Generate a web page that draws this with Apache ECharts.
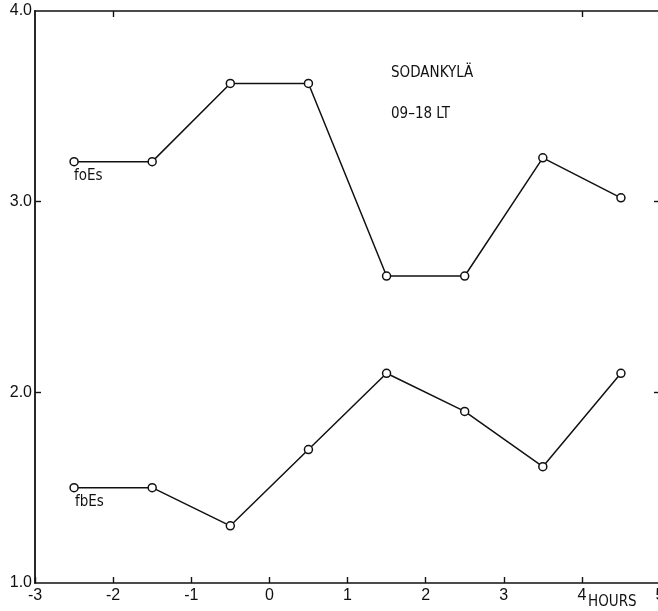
<!DOCTYPE html>
<html>
<head>
<meta charset="utf-8">
<script src="https://cdn.jsdelivr.net/npm/echarts@6/dist/echarts.min.js"></script>
<style>
  html, body { margin: 0; padding: 0; background: #fff; }
  #chart { width: 658px; height: 611px; }
</style>
</head>
<body>
<div id="chart"></div>
<script>
// Hours relative to reference time
const hours = [-2.5, -1.5, -0.5, 0.5, 1.5, 2.5, 3.5, 4.5];
// Critical frequencies, MHz
const foEs = [3.21, 3.21, 3.62, 3.62, 2.61, 2.61, 3.23, 3.02];
const fbEs = [1.50, 1.50, 1.30, 1.70, 2.10, 1.90, 1.61, 2.10];
const xTicks = [-3, -2, -1, 0, 1, 2, 3, 4, 5];
const yTicks = [1.0, 2.0, 3.0, 4.0];

const pairs = (ys) => hours.map((h, i) => [h, ys[i]]);
const ink = '#111';
const font = 'Liberation Sans, Arial, sans-serif';
const condensed = 'DejaVu Sans Condensed, Liberation Sans Narrow, sans-serif';

const lineSeries = (name, ys) => ({
  name,
  type: 'line',
  data: pairs(ys),
  symbol: 'circle',
  symbolSize: 8,
  showAllSymbol: true,
  itemStyle: { color: '#fff', borderColor: ink, borderWidth: 1.5 },
  lineStyle: { color: ink, width: 1.5 },
  emphasis: { disabled: true },
  animation: false
});

const chart = echarts.init(document.getElementById('chart'), null, { renderer: 'canvas' });
chart.setOption({
  backgroundColor: '#fff',
  animation: false,
  grid: { left: 35, right: -2, top: 11, bottom: 28, outerBoundsMode: 'none', containLabel: false },
  xAxis: [
    {
      type: 'value', min: -3, max: 5, interval: 1, position: 'bottom',
      axisLine: { show: true, onZero: false, lineStyle: { color: ink, width: 1.6 } },
      axisTick: { show: true, inside: true, length: 6, lineStyle: { color: ink, width: 1.4 } },
      axisLabel: {
        color: ink, fontSize: 16, fontFamily: font, margin: 5,
        customValues: xTicks, formatter: v => String(v)
      },
      splitLine: { show: false }
    },
    {
      type: 'value', min: -3, max: 5, interval: 1, position: 'top',
      axisLine: { show: true, onZero: false, lineStyle: { color: ink, width: 1.6 } },
      axisTick: { show: true, inside: true, length: 6, customValues: [-2, 4], lineStyle: { color: ink, width: 1.4 } },
      axisLabel: { show: false },
      splitLine: { show: false }
    }
  ],
  yAxis: [
    {
      type: 'value', min: 1, max: 4, interval: 1, position: 'left',
      name: 'MHz', nameLocation: 'middle', nameGap: 9, nameRotate: 90,
      nameTextStyle: { color: ink, fontSize: 14, fontFamily: font },
      axisLine: { show: true, onZero: false, lineStyle: { color: ink, width: 1.8 } },
      axisTick: { show: true, inside: true, length: 6, customValues: [2, 3], lineStyle: { color: ink, width: 1.4 } },
      axisLabel: {
        color: ink, fontSize: 16, fontFamily: font, margin: 3,
        customValues: yTicks, formatter: v => v.toFixed(1)
      },
      splitLine: { show: false }
    },
    {
      type: 'value', min: 1, max: 4, interval: 1, position: 'right',
      axisLine: { show: false, onZero: false },
      axisTick: { show: true, inside: true, length: 6, customValues: [2, 3], lineStyle: { color: ink, width: 1.4 } },
      axisLabel: { show: false },
      splitLine: { show: false }
    }
  ],
  series: [
    lineSeries('foEs', foEs),
    lineSeries('fbEs', fbEs)
  ],
  graphic: [
    { type: 'text', left: 74, top: 169, style: { text: 'foEs', fill: ink, font: '15px ' + condensed } },
    { type: 'text', left: 75, top: 495, style: { text: 'fbEs', fill: ink, font: '15px ' + condensed } },
    { type: 'text', left: 391, top: 66, style: { text: 'SODANKYLÄ', fill: ink, font: '15px ' + condensed } },
    { type: 'text', left: 391, top: 107, style: { text: '09–18 LT', fill: ink, font: '15px ' + condensed } },
    { type: 'text', left: 588, top: 595, style: { text: 'HOURS', fill: ink, font: '15px ' + condensed } }
  ]
});
</script>
</body>
</html>
